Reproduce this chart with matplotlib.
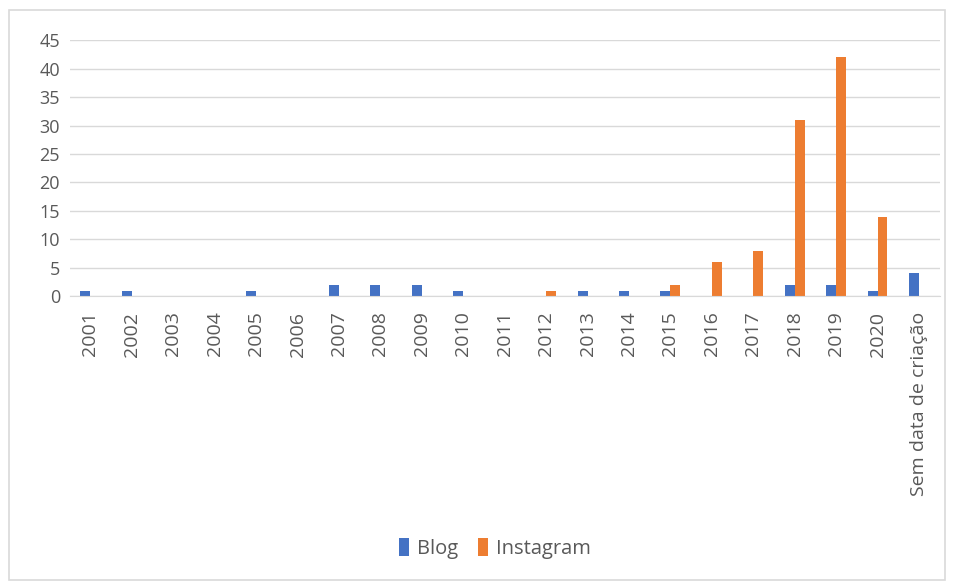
import matplotlib
matplotlib.use("Agg")
import matplotlib.pyplot as plt
import numpy as np
from matplotlib.patches import Rectangle

categories = ["2001", "2002", "2003", "2004", "2005", "2006", "2007", "2008",
              "2009", "2010", "2011", "2012", "2013", "2014", "2015", "2016",
              "2017", "2018", "2019", "2020", "Sem data de criação"]
blog = [1, 1, 0, 0, 1, 0, 2, 2, 2, 1, 0, 0, 1, 1, 1, 0, 0, 2, 2, 1, 4]
instagram = [0, 0, 0, 0, 0, 0, 0, 0, 0, 0, 0, 1, 0, 0, 2, 6, 8, 31, 42, 14, 0]
yticks = np.arange(0, 46, 5)

plt.rcParams['font.family'] = ['Open Sans', 'DejaVu Sans']
grey = "#595959"

fig = plt.figure(figsize=(9.54, 5.82), dpi=100)
fig.patches.append(Rectangle((0.009, 0.004), 0.982, 0.978, transform=fig.transFigure,
                             fill=False, edgecolor="#d9d9d9", linewidth=1.2))
ax = fig.add_axes([0.073, 0.491, 0.912, 0.44])

x = np.arange(len(categories))
w = 0.24
ax.bar(x - w / 2, blog, w, color="#4472c4", label="Blog")
ax.bar(x + w / 2, instagram, w, color="#ed7d31", label="Instagram")

ax.set_xlim(-0.5, len(categories) - 0.5)
ax.set_ylim(0, 45)
ax.set_yticks(yticks)
ax.set_xticks(x)
ax.set_xticklabels(categories, rotation=90, fontsize=14, color=grey)
ax.tick_params(axis="y", labelsize=13, labelcolor=grey, length=0, pad=7)
ax.tick_params(axis="x", length=0, pad=11)
ax.grid(axis="y", color="#d9d9d9", linewidth=1)
ax.set_axisbelow(True)
for s in ["top", "right", "left"]:
    ax.spines[s].set_visible(False)
ax.spines["bottom"].set_color("#d9d9d9")

fig.legend(loc="center", bbox_to_anchor=(0.519, 0.058), ncol=2, frameon=False,
           fontsize=14.5, handlelength=0.5, handleheight=1.0, columnspacing=1.0,
           handletextpad=0.4, labelcolor=grey)

plt.savefig("out.png", dpi=100)
plt.close()
